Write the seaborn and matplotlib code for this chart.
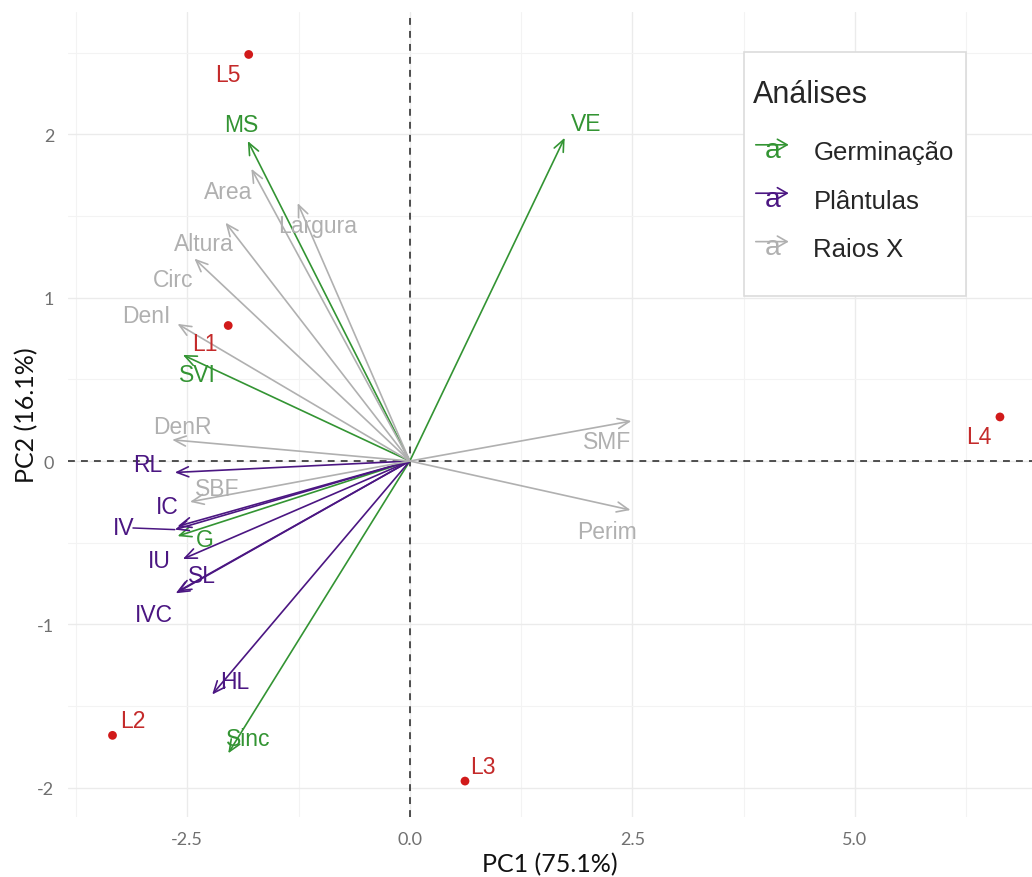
import matplotlib
matplotlib.use("Agg")
import matplotlib.pyplot as plt
import seaborn as sns
import pandas as pd
from matplotlib.legend_handler import HandlerBase
from matplotlib.patches import FancyArrowPatch, Rectangle
from matplotlib.text import Text
from matplotlib.lines import Line2D

# ---- data ----
lot_names = ["L1", "L2", "L3", "L4", "L5"]
lot_pc1 = [-2.04, -3.34, 0.62, 6.63, -1.81]
lot_pc2 = [0.83, -1.68, -1.96, 0.27, 2.49]
lot_lab_x = [-2.30, -3.11, 0.82, 6.39, -2.04]
lot_lab_y = [0.72, -1.59, -1.87, 0.15, 2.37]

var_names = ["VE", "MS", "SVI", "G", "Sinc",
             "RL", "IC", "IV", "IU", "SL", "IVC", "HL",
             "Area", "Largura", "Altura", "Circ", "DenI", "DenR", "SBF", "SMF", "Perim"]
var_group = ["Germinação"] * 5 + ["Plântulas"] * 7 + ["Raios X"] * 9
var_pc1 = [1.74, -1.82, -2.55, -2.61, -2.04,
           -2.64, -2.61, -2.64, -2.55, -2.61, -2.63, -2.22,
           -1.78, -1.26, -2.07, -2.42, -2.61, -2.67, -2.47, 2.49, 2.48]
var_pc2 = [1.98, 1.96, 0.65, -0.46, -1.79,
           -0.07, -0.40, -0.42, -0.60, -0.80, -0.81, -1.43,
           1.79, 1.58, 1.46, 1.24, 0.84, 0.13, -0.25, 0.245, -0.30]
var_lab_x = [1.98, -1.89, -2.39, -2.30, -1.82,
             -2.94, -2.73, -3.21, -2.81, -2.33, -2.87, -1.97,
             -2.04, -1.03, -2.31, -2.66, -2.96, -2.56, -2.16, 2.22, 2.22]
var_lab_y = [2.07, 2.06, 0.53, -0.48, -1.70,
             -0.02, -0.28, -0.41, -0.61, -0.70, -0.94, -1.35,
             1.65, 1.44, 1.33, 1.11, 0.89, 0.21, -0.17, 0.12, -0.43]

group_order = ["Germinação", "Plântulas", "Raios X"]
group_colors = {"Germinação": "#339433", "Plântulas": "#4b1682", "Raios X": "#b0b0b0"}

lots = pd.DataFrame({"name": lot_names, "PC1": lot_pc1, "PC2": lot_pc2})
vars_df = pd.DataFrame({"name": var_names, "group": var_group, "PC1": var_pc1, "PC2": var_pc2,
                        "lx": var_lab_x, "ly": var_lab_y})

sns.set_theme(style="whitegrid")
plt.rcParams['font.family'] = ['Liberation Sans', 'DejaVu Sans']
plt.rcParams['axes.unicode_minus'] = False

W, H = 1032, 878
fig = plt.figure(figsize=(W / 100, H / 100), dpi=100)
ax = fig.add_axes([68 / W, 1 - 818 / H, (1032 - 68) / W, (818 - 13) / H])

ax.set_xlim(-3.84, 6.99)
ax.set_ylim(-2.18, 2.75)
ax.set_xticks([-2.5, 0.0, 2.5, 5.0])
ax.set_xticklabels(["-2.5", "0.0", "2.5", "5.0"])
ax.set_yticks([-2, -1, 0, 1, 2])
ax.set_xticks([-3.75, -1.25, 1.25, 3.75, 6.25], minor=True)
ax.set_yticks([-1.5, -0.5, 0.5, 1.5, 2.5], minor=True)
ax.grid(which="major", color="#ebebeb", linewidth=1.0)
ax.grid(which="minor", color="#f3f3f3", linewidth=0.8)
for s in ax.spines.values():
    s.set_visible(False)
ax.set_facecolor("white")
ax.tick_params(axis="both", which="major", colors="#555555", labelcolor="#707070",
               labelsize=13, length=4, width=1.1, direction="out", pad=6)
ax.tick_params(which="minor", length=0)
for lab in ax.get_xticklabels() + ax.get_yticklabels():
    lab.set_family(["Lato", "DejaVu Sans"])

ax.axhline(0, color="#222222", linestyle=(0, (4.5, 4)), linewidth=1.1, zorder=1)
ax.axvline(0, color="#222222", linestyle=(0, (4.5, 4)), linewidth=1.1, zorder=1)

# arrows
for _, r in vars_df.iterrows():
    c = group_colors[r["group"]]
    ax.annotate("", xy=(r["PC1"], r["PC2"]), xytext=(0, 0),
                arrowprops=dict(arrowstyle="->,head_length=0.7,head_width=0.3", color=c,
                                lw=1.2, shrinkA=0, shrinkB=0), zorder=2)
    if r["name"] == "IV":
        # repel segment joining the label to its arrow tip
        ax.plot([r["lx"] + 0.1, r["PC1"]], [r["ly"], r["PC2"]], color=c, lw=1.1, zorder=2)
    ax.text(r["lx"], r["ly"], r["name"], color=c, fontsize=16.5, ha="center", va="center", zorder=3)

# individuals
sns.scatterplot(data=lots, x="PC1", y="PC2", color="#d11a1a", s=40, edgecolor="none",
                ax=ax, zorder=4, legend=False)
for n, lx, ly in zip(lot_names, lot_lab_x, lot_lab_y):
    ax.text(lx, ly, n, color="#c42a2a", fontsize=16.5, ha="center", va="center", zorder=4)

ax.set_xlabel("PC1 (75.1%)", fontsize=18, color="#111111", labelpad=4, family=["Lato", "DejaVu Sans"])
ax.set_ylabel("PC2 (16.1%)", fontsize=18, color="#111111", labelpad=-1, family=["Lato", "DejaVu Sans"])


class ArrowAHandler(HandlerBase):
    def create_artists(self, legend, orig_handle, xdescent, ydescent, width, height, fontsize, trans):
        c = orig_handle.get_color()
        y = height / 2 - ydescent
        arr = FancyArrowPatch((0, y + 4), (width, y + 4),
                              arrowstyle="->,head_length=7,head_width=4", color=c, lw=1.2,
                              mutation_scale=1, transform=trans)
        t = Text(width * 0.5, y, "a", color=c, fontsize=fontsize * 1.1,
                 ha="center", va="center", transform=trans)
        return [arr, t]


# legend frame (ggplot style box)
fig.patches.append(Rectangle((744 / W, 1 - 297 / H), 222 / W, 244 / H, transform=fig.transFigure,
                             facecolor="white", edgecolor="#dcdcdc", linewidth=1.2, zorder=5))

handles = [Line2D([], [], color=group_colors[g]) for g in group_order]
leg = fig.legend(handles, group_order, title="Análises", loc="upper left",
                 bbox_to_anchor=(753 / W, 1 - 80 / H), bbox_transform=fig.transFigure,
                 frameon=False, fontsize=18.5, title_fontsize=22,
                 handler_map={Line2D: ArrowAHandler()}, handlelength=1.5, handletextpad=0.85,
                 labelspacing=0.95, borderpad=0, borderaxespad=0)
leg._legend_box.align = "left"
leg._legend_box.sep = 0.95 * 18.5 + 5
leg.set_zorder(10)

fig.savefig("out.png", dpi=100, facecolor="white")
